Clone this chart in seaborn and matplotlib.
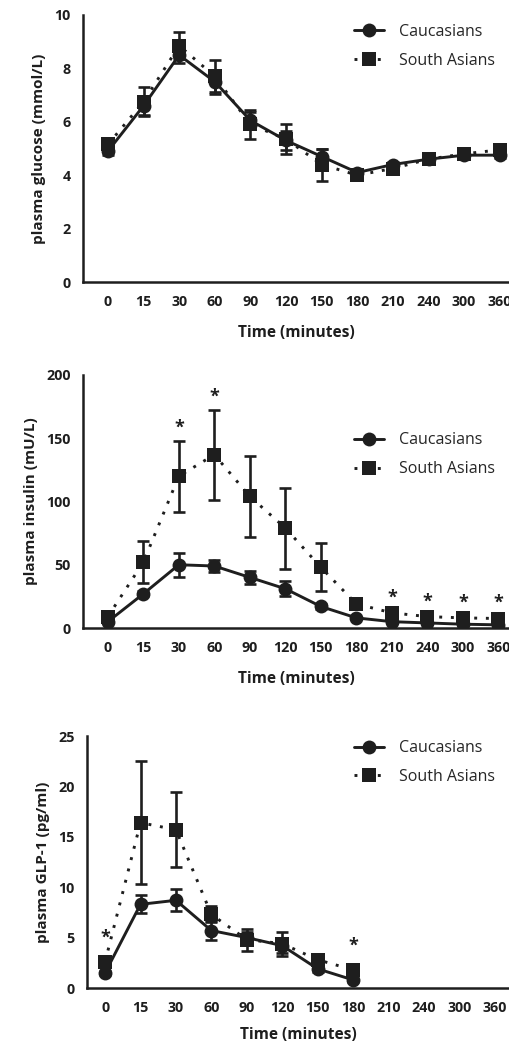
import numpy as np
import pandas as pd
import matplotlib
matplotlib.use("Agg")
import matplotlib.pyplot as plt
import seaborn as sns

# time points (categorical x axis)
times = ["0", "15", "30", "60", "90", "120", "150", "180", "210", "240", "300", "360"]
groups = ["Caucasians", "South Asians"]

# plasma glucose (mmol/L), mean and SEM
glu_cau = [4.9, 6.6, 8.5, 7.5, 6.05, 5.3, 4.7, 4.1, 4.4, 4.6, 4.75, 4.75]
glu_cau_err = [0.15, 0.35, 0.3, 0.45, 0.3, 0.35, 0.3, 0.1, 0.1, 0.1, 0.1, 0.1]
glu_sa = [5.15, 6.75, 8.85, 7.7, 5.9, 5.35, 4.4, 4.0, 4.25, 4.6, 4.8, 4.95]
glu_sa_err = [0.15, 0.55, 0.5, 0.6, 0.55, 0.55, 0.6, 0.1, 0.1, 0.1, 0.1, 0.1]

# plasma insulin (mU/L)
ins_cau = [5, 27, 50, 49, 40, 31, 17, 8, 5, 4, 3, 2.5]
ins_cau_err = [1, 2, 9.5, 5, 5, 6, 2, 1, 1, 1, 1, 1]
ins_sa = [9, 52, 120, 137, 104, 79, 48, 19, 12, 9, 8, 7.5]
ins_sa_err = [2, 16.5, 28, 35.5, 32, 32, 19, 3, 2, 2, 2, 2]
ins_stars = [2, 3, 8, 9, 10, 11]

# plasma GLP-1 (pg/ml), only measured up to 180 min
glp_cau = [1.5, 8.3, 8.7, 5.7, 5.0, 4.2, 1.9, 0.8]
glp_cau_err = [0.2, 0.9, 1.1, 0.9, 0.6, 0.7, 0.3, 0.2]
glp_sa = [2.6, 16.4, 15.7, 7.3, 4.8, 4.4, 2.8, 1.8]
glp_sa_err = [0.3, 6.1, 3.7, 0.8, 1.1, 1.2, 0.4, 0.3]
glp_stars = [0, 7]

ink = "#1e1e1e"


def panel(ax, cau, cau_err, sa, sa_err, ymax, ystep, ylabel, stars, star_pad, xl, leg_y, xpad):
    n = len(cau)
    df = pd.DataFrame({
        "pos": list(range(n)) * 2,
        "value": cau + sa,
        "group": [groups[0]] * n + [groups[1]] * n,
    })
    for vals, errs in [(cau, cau_err), (sa, sa_err)]:
        ax.errorbar(range(n), vals, yerr=errs, fmt="none", ecolor=ink,
                    elinewidth=1.9, capsize=4.5, capthick=1.9, zorder=2)
    sns.lineplot(data=df, x="pos", y="value", style="group", hue="group",
                 palette=[ink, ink], markers={"Caucasians": "o", "South Asians": "s"},
                 dashes={"Caucasians": "", "South Asians": (1, 3)},
                 markersize=10, markeredgewidth=0, linewidth=2.1, ax=ax, zorder=3)
    for i in stars:
        top = sa[i] + sa_err[i] + star_pad
        ax.text(i, top, "*", ha="center", va="bottom", fontsize=13, fontweight="bold", color=ink)
    ax.set_xlim(*xl)
    ax.set_ylim(0, ymax)
    ax.set_xticks(range(len(times)))
    ax.set_xticklabels(times)
    ax.set_yticks(np.arange(0, ymax + ystep / 2, ystep))
    ax.tick_params(axis="both", direction="out", length=5, width=1.8, color=ink,
                   labelsize=10.3, labelcolor=ink, pad=4)
    for lab in ax.get_xticklabels() + ax.get_yticklabels():
        lab.set_fontweight("bold")
    ax.set_ylabel(ylabel, fontsize=11, fontweight="bold", color=ink, labelpad=6)
    ax.set_xlabel("Time (minutes)", fontsize=11.2, fontweight="bold", color=ink, labelpad=xpad)
    for side in ["top", "right"]:
        ax.spines[side].set_visible(False)
    for side in ["left", "bottom"]:
        ax.spines[side].set_linewidth(1.8)
        ax.spines[side].set_color(ink)
    ax.legend(loc="upper right", bbox_to_anchor=(1.0, leg_y), frameon=False, fontsize=11.5,
              handlelength=1.9, handletextpad=0.9, labelspacing=0.8, title=None)


sns.set_style("white")
plt.rcParams["font.family"] = ["Open Sans", "DejaVu Sans"]
fig = plt.figure(figsize=(5.1, 10.46), dpi=100)

W, H = 510.0, 1046.0
ax1 = fig.add_axes([83 / W, 1 - 282 / H, 426 / W, 267 / H])
ax2 = fig.add_axes([83 / W, 1 - 628 / H, 426 / W, 253 / H])
ax3 = fig.add_axes([87 / W, 1 - 988 / H, 422 / W, 252 / H])

panel(ax1, glu_cau, glu_cau_err, glu_sa, glu_sa_err, 10, 2,
      "plasma glucose (mmol/L)", [], 0, (-0.7, 11.26), 1.02, 12)
panel(ax2, ins_cau, ins_cau_err, ins_sa, ins_sa_err, 200, 50,
      "plasma insulin (mU/L)", ins_stars, 3, (-0.7, 11.3), 0.83, 12)
panel(ax3, glp_cau, glp_cau_err, glp_sa, glp_sa_err, 25, 5,
      "plasma GLP-1 (pg/ml)", glp_stars, 1.2, (-0.51, 11.4), 1.04, 9)

fig.savefig("out.png", dpi=100)
